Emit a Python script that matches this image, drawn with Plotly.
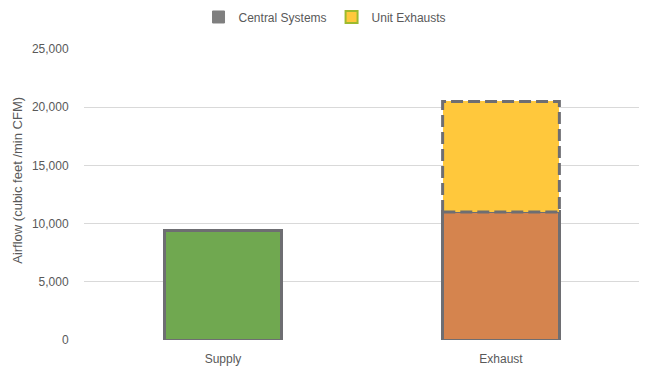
import plotly.graph_objects as go

categories = ["Supply", "Exhaust"]
central_systems = [9400, 11000]
unit_exhausts = [0, 9500]
y_ticks = [0, 5000, 10000, 15000, 20000, 25000]

positions = list(range(len(categories)))
bar_w = 0.42
outline = "#6E6E72"
grey = "#595959"
font = dict(family="Liberation Sans, Arial, sans-serif", size=12, color=grey)

fig = go.Figure()
fig.add_trace(go.Bar(
    x=positions, y=central_systems, width=bar_w, showlegend=False,
    marker=dict(color=["#70A850", "#D5844E"], line=dict(color=outline, width=3)),
    hoverinfo="y",
))
fig.add_trace(go.Bar(
    x=positions, y=unit_exhausts, width=bar_w, showlegend=False,
    marker=dict(color="#FFC83C", line=dict(width=0)),
    hoverinfo="y",
))
# dashed outline around unit exhausts stack, derived from data
xs, ys = [], []
for p, c, u in zip(positions, central_systems, unit_exhausts):
    if u > 0:
        x0, x1 = p - bar_w / 2, p + bar_w / 2
        xs += [x0, x0, x1, x1, x0, None]
        ys += [c, c + u, c + u, c, c, None]
fig.add_trace(go.Scatter(
    x=xs, y=ys, mode="lines", showlegend=False, hoverinfo="skip",
    line=dict(color=outline, width=3, dash="12px,5px"),
))
# legend entries
fig.add_trace(go.Bar(x=[None], y=[None], name="Central Systems",
                     marker=dict(color="#7F7F7F", line=dict(color="#7F7F7F", width=1))))
fig.add_trace(go.Bar(x=[None], y=[None], name="Unit Exhausts",
                     marker=dict(color="#FFC83C", line=dict(color="#9DBA2E", width=2))))

fig.update_layout(
    width=647, height=370,
    margin=dict(l=76, r=15, t=41, b=38, autoexpand=False),
    barmode="stack",
    paper_bgcolor="white", plot_bgcolor="white",
    font=font,
    legend=dict(orientation="h", x=0.49, xanchor="center", xref="container",
                y=1.11, yanchor="middle", yref="paper",
                itemwidth=30, font=font, traceorder="normal", tracegroupgap=0),
    xaxis=dict(range=[-0.5, 1.5], tickvals=positions, ticktext=categories,
               showgrid=False, zeroline=False, showline=False,
               ticks="outside", ticklen=8, tickcolor="rgba(0,0,0,0)",
               automargin=False, tickfont=dict(color=grey, size=12)),
    yaxis=dict(range=[0, 25000], tickvals=y_ticks, tickformat=",",
               showgrid=True, gridcolor="#D9D9D9", gridwidth=1, zeroline=False,
               showline=False, ticks="outside", ticklen=12, tickcolor="rgba(0,0,0,0)",
               automargin=False, tickfont=dict(color=grey, size=12)),
    annotations=[dict(text="Airflow (cubic feet /min CFM)", textangle=-90,
                      xref="paper", yref="paper", x=-0.119, y=0.55,
                      xanchor="center", yanchor="middle", showarrow=False,
                      font=dict(size=13, color=grey))],
)
fig.write_html("out.html")
